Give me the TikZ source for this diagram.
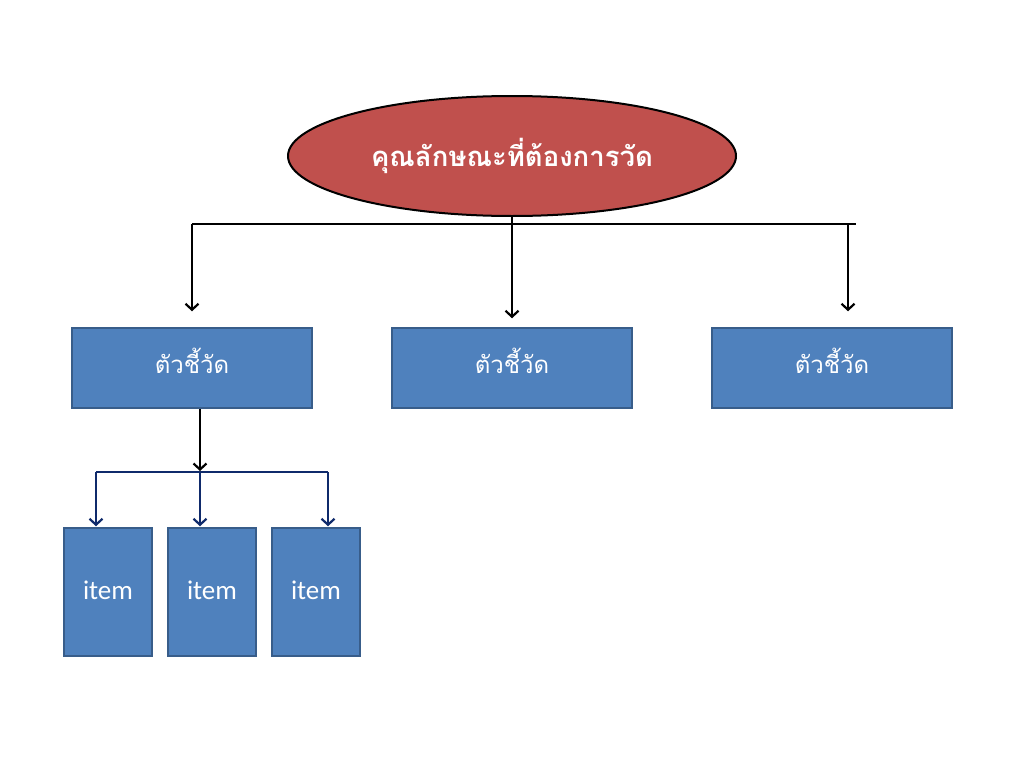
\documentclass[tikz,border=0pt]{standalone}
\usepackage{fontspec}
\newfontfamily\thaifont[Script=Thai]{Loma}
\newfontfamily\itemfont{Carlito}
\usetikzlibrary{shapes.geometric,arrows.meta}
\definecolor{redfill}{HTML}{C0504D}
\definecolor{bluefill}{HTML}{4F81BD}
\definecolor{blueedge}{HTML}{385D8A}
\definecolor{navyline}{HTML}{0F2A6B}
\begin{document}
\begin{tikzpicture}[x=1pt,y=-1pt,
  topnode/.style={ellipse,draw=black,line width=2pt,fill=redfill,minimum width=448pt,minimum height=120pt,inner sep=0pt,text=white,font=\thaifont\bfseries\fontsize{27.5}{30}\selectfont},
  indbox/.style={rectangle,draw=blueedge,line width=1.5pt,fill=bluefill,minimum width=240pt,minimum height=80pt,inner sep=0pt,text=white,font=\thaifont\fontsize{24}{28}\selectfont},
  itembox/.style={rectangle,draw=blueedge,line width=1.5pt,fill=bluefill,minimum width=88pt,minimum height=128pt,inner sep=0pt,text=white,font=\itemfont\fontsize{27}{30}\selectfont},
  conn/.style={line width=2.2pt,draw=black},
  arr/.style={conn,-{Straight Barb[length=6pt,width=13pt,line width=2.2pt]}},
  navyconn/.style={line width=2.2pt,draw=navyline},
  navyarr/.style={navyconn,-{Straight Barb[length=6pt,width=13pt,line width=2.2pt]}}
]
\useasboundingbox[fill=white] (0,0) rectangle (1024,768);
\node[topnode] (top) at (512,156) {\raisebox{3pt}{คุณลักษณะที่ต้องการวัด}};
\node[indbox] (b1) at (192,368) {\raisebox{14pt}{ตัวชี้วัด}};
\node[indbox] (b2) at (512,368) {\raisebox{14pt}{ตัวชี้วัด}};
\node[indbox] (b3) at (832,368) {\raisebox{14pt}{ตัวชี้วัด}};
\node[itembox] (i1) at (108,592) {\raisebox{4pt}{item}};
\node[itembox] (i2) at (212,592) {\raisebox{4pt}{item}};
\node[itembox] (i3) at (316,592) {\raisebox{4pt}{item}};
\coordinate (hl) at (192,224);
\coordinate (hr) at (856,224);
\coordinate (hr3) at (848,224);
\draw[conn] (hl) -- (hr);
\draw[arr,shorten >=9pt] (top.south) -- (b2.north);
\draw[arr,shorten >=16pt] (hl) -- (b1.north);
\draw[arr,shorten >=16pt] (hr3) -- (hr3 |- b3.north);
\coordinate (jb) at (200,472);
\coordinate (ja) at (96,472);
\coordinate (jc) at (328,472);
\draw[arr,shorten >=1pt] (jb |- b1.south) -- (jb);
\draw[navyconn] (ja) -- (jc);
\draw[navyarr,shorten >=1pt] (ja) -- (ja |- i1.north);
\draw[navyarr,shorten >=1pt] (jb) -- (jb |- i2.north);
\draw[navyarr,shorten >=1pt] (jc) -- (jc |- i3.north);
\end{tikzpicture}
\end{document}
